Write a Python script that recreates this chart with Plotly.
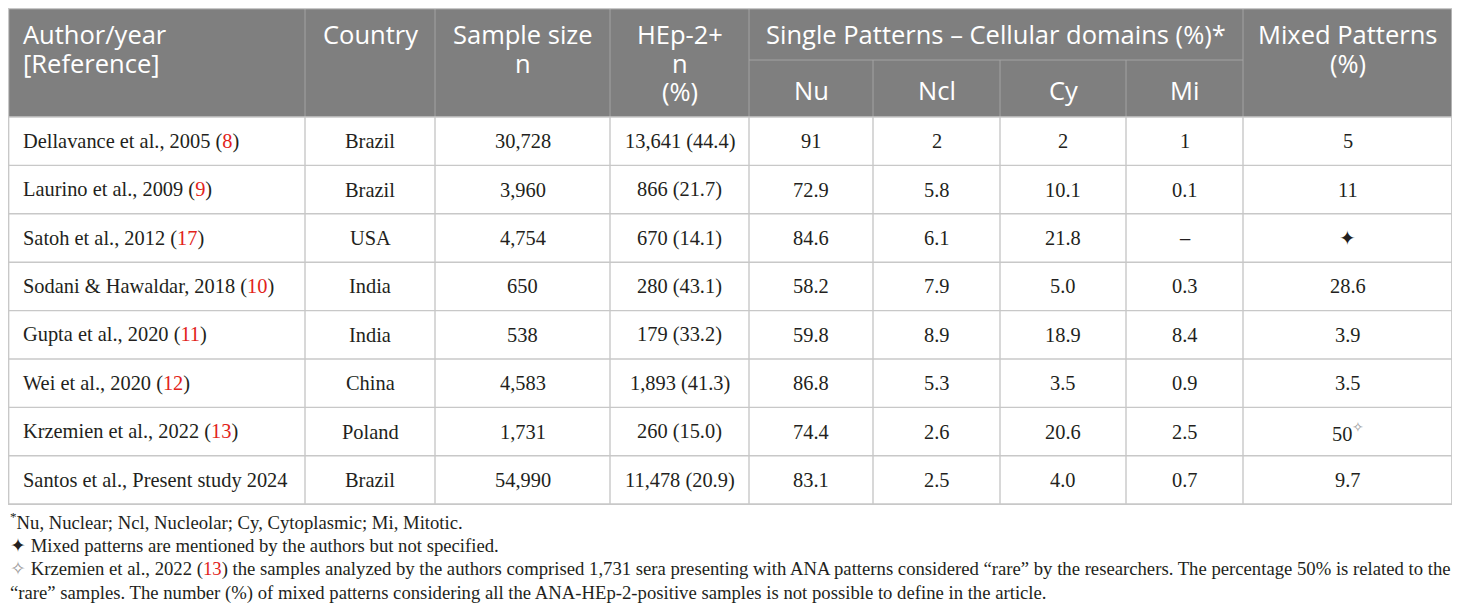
import plotly.graph_objects as go

# table contents
authors = ["Dellavance et al., 2005", "Laurino et al., 2009", "Satoh et al., 2012",
           "Sodani & Hawaldar, 2018", "Gupta et al., 2020", "Wei et al., 2020",
           "Krzemien et al., 2022", "Santos et al., Present study 2024"]
refs = ["8", "9", "17", "10", "11", "12", "13", ""]
countries = ["Brazil", "Brazil", "USA", "India", "India", "China", "Poland", "Brazil"]
sample_size = ["30,728", "3,960", "4,754", "650", "538", "4,583", "1,731", "54,990"]
hep2_pos = ["13,641 (44.4)", "866 (21.7)", "670 (14.1)", "280 (43.1)", "179 (33.2)",
            "1,893 (41.3)", "260 (15.0)", "11,478 (20.9)"]
nu = ["91", "72.9", "84.6", "58.2", "59.8", "86.8", "74.4", "83.1"]
ncl = ["2", "5.8", "6.1", "7.9", "8.9", "5.3", "2.6", "2.5"]
cy = ["2", "10.1", "21.8", "5.0", "18.9", "3.5", "20.6", "4.0"]
mi = ["1", "0.1", "–", "0.3", "8.4", "0.9", "2.5", "0.7"]
mixed = ["5", "11", "✦", "28.6", "3.9", "3.5", "50<sup><span style='color:#9a9a9a'>✧</span></sup>", "9.7"]

header_top = [["Author/year", "[Reference]"], ["Country"], ["Sample size", "n"],
              ["HEp-2+", "n", "(%)"], None, None, None, None, ["Mixed Patterns", "(%)"]]
group_label = "Single Patterns – Cellular domains (%)*"
sub_labels = ["Nu", "Ncl", "Cy", "Mi"]

footnotes = [
    "<sup>*</sup>Nu, Nuclear; Ncl, Nucleolar; Cy, Cytoplasmic; Mi, Mitotic.",
    "✦ Mixed patterns are mentioned by the authors but not specified.",
    "<span style='color:#9a9a9a'>✧</span> Krzemien et al., 2022 (<span style='color:#e2231a'>13</span>) the samples analyzed by the authors comprised 1,731 sera presenting with ANA patterns considered “rare” by the researchers. The percentage 50% is related to the",
    "“rare” samples. The number (%) of mixed patterns considering all the ANA-HEp-2-positive samples is not possible to define in the article.",
]

# layout geometry (page pixels; the page body adds an 8px margin)
W, H = 1460, 616
OFF = 8
col_edges = [8.5, 305, 435, 610, 749, 873, 1000, 1126, 1243, 1452]
top, sub_y, head_bot = 8.5, 60, 117
row_h = 48.4
n_rows = len(authors)
bottom = head_bot + row_h * n_rows

HEAD_BG = "#7f7f7f"
HEAD_LINE = "#a3a3a3"
GRID = "#c8c8c8"
TXT = "#231f20"
RED = "#e2231a"
SANS = "Open Sans"
SERIF = "Liberation Serif"
HEAD_SIZE = 25.5
BODY_SIZE = 20.4
NOTE_SIZE = 18.7

fig = go.Figure()
shapes = []
ann = []

# header background
shapes.append(dict(type="rect", x0=col_edges[0], x1=col_edges[-1], y0=top, y1=head_bot,
                   fillcolor=HEAD_BG, line_width=0, layer="below"))
# header lines
for i, x in enumerate(col_edges[1:-1], start=1):
    y0 = sub_y if i in (5, 6, 7) else top
    shapes.append(dict(type="line", x0=x, x1=x, y0=y0, y1=head_bot,
                       line=dict(color=HEAD_LINE, width=1)))
shapes.append(dict(type="line", x0=col_edges[4], x1=col_edges[8], y0=sub_y, y1=sub_y,
                   line=dict(color=HEAD_LINE, width=1)))

# body grid
for r in range(n_rows + 1):
    y = head_bot + r * row_h
    shapes.append(dict(type="line", x0=col_edges[0], x1=col_edges[-1], y0=y, y1=y,
                       line=dict(color=GRID, width=1.4)))
for x in col_edges:
    shapes.append(dict(type="line", x0=x, x1=x, y0=head_bot, y1=bottom,
                       line=dict(color=GRID, width=1.4)))
# outer border
shapes.append(dict(type="rect", x0=col_edges[0], x1=col_edges[-1], y0=top, y1=bottom,
                   line=dict(color=GRID, width=1.4), fillcolor="rgba(0,0,0,0)"))

# header text
line_gap = 28.5
for c, lines in enumerate(header_top):
    if lines is None:
        continue
    for k, t in enumerate(lines):
        if c == 0:
            x, xa = col_edges[0] + 12, "left"
        else:
            x, xa = (col_edges[c] + col_edges[c + 1]) / 2, "center"
        ann.append(dict(x=x, y=34 + k * line_gap, text=t, xanchor=xa, yanchor="middle",
                        font=dict(family=SANS, size=HEAD_SIZE, color="white")))
ann.append(dict(x=(col_edges[4] + col_edges[8]) / 2, y=34, text=group_label,
                xanchor="center", yanchor="middle",
                font=dict(family=SANS, size=HEAD_SIZE, color="white")))
for k, t in enumerate(sub_labels):
    ann.append(dict(x=(col_edges[4 + k] + col_edges[5 + k]) / 2, y=90,
                    text=t, xanchor="center", yanchor="middle",
                    font=dict(family=SANS, size=HEAD_SIZE, color="white")))

# body text
columns = [countries, sample_size, hep2_pos, nu, ncl, cy, mi, mixed]
for r in range(n_rows):
    yc = head_bot + (r + 0.5) * row_h
    a = authors[r]
    if refs[r]:
        a += " (<span style='color:%s'>%s</span>)" % (RED, refs[r])
    ann.append(dict(x=col_edges[0] + 12, y=yc, text=a, xanchor="left", yanchor="middle",
                    font=dict(family=SERIF, size=BODY_SIZE, color=TXT)))
    for c, vals in enumerate(columns, start=1):
        ann.append(dict(x=(col_edges[c] + col_edges[c + 1]) / 2, y=yc, text=vals[r],
                        xanchor="center", yanchor="middle",
                        font=dict(family=SERIF, size=BODY_SIZE, color=TXT)))

# footnotes
for k, t in enumerate(footnotes):
    ann.append(dict(x=8, y=521 + k * 24, text=t, xanchor="left", yanchor="middle",
                    font=dict(family=SERIF, size=NOTE_SIZE, color=TXT)))

for a in ann:
    a.update(xref="x", yref="y", showarrow=False)

fig.update_layout(
    width=W - OFF, height=H - OFF, margin=dict(l=0, r=0, t=0, b=0),
    paper_bgcolor="white", plot_bgcolor="white",
    xaxis=dict(range=[OFF, W], visible=False, fixedrange=True),
    yaxis=dict(range=[H, OFF], visible=False, fixedrange=True),
    shapes=shapes, annotations=ann, showlegend=False,
)

fig.write_html("out.html")
